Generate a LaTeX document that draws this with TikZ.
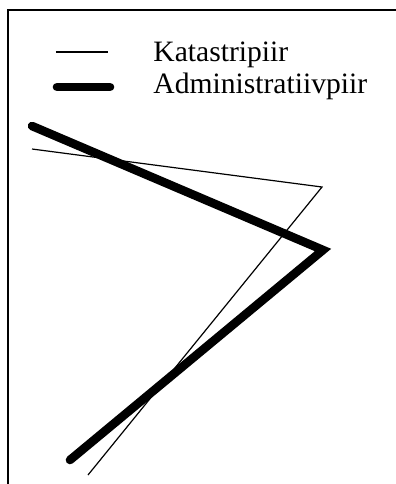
\documentclass[tikz,border=0pt]{standalone}
\usepackage{fontspec}
\setmainfont{Liberation Serif}
\tikzset{
    kataster/.style={line width=0.6pt},
    admin/.style={line width=4.3pt, line cap=round, line join=miter},
    legendtext/.style={anchor=base west, inner sep=0pt, font=\fontsize{14.8}{17}\selectfont}
}
\begin{document}
\begin{tikzpicture}[x=0.5pt, y=-0.5pt]
    \useasboundingbox (0,0) rectangle (396,484);
    % frame
    \coordinate (FrameBL) at (8,484);
    \coordinate (FrameTL) at (8,10);
    \coordinate (FrameTR) at (396,10);
    \draw[line width=1pt] (FrameBL) -- (FrameTL) -- (FrameTR);
    % legend
    \coordinate (kl) at (56,52);
    \coordinate (kr) at (108,52);
    \draw[kataster] (kl) -- (kr);
    \node[legendtext] (KatText) at (153,61) {Katastripiir};
    \coordinate (al) at (57,87);
    \coordinate (ar) at (110,87);
    \draw[admin] (al) -- (ar);
    \node[legendtext] (AdmText) at (153,93) {Administratiivpiir};
    % borders
    \coordinate (k1) at (32,149);
    \coordinate (k2) at (322,187);
    \coordinate (k3) at (88,475);
    \draw[kataster] (k1) -- (k2) -- (k3);
    \coordinate (a1) at (32,126);
    \coordinate (a2) at (323,250);
    \coordinate (a3) at (70,460);
    \draw[admin] (a1) -- (a2) -- (a3);
\end{tikzpicture}
\end{document}
